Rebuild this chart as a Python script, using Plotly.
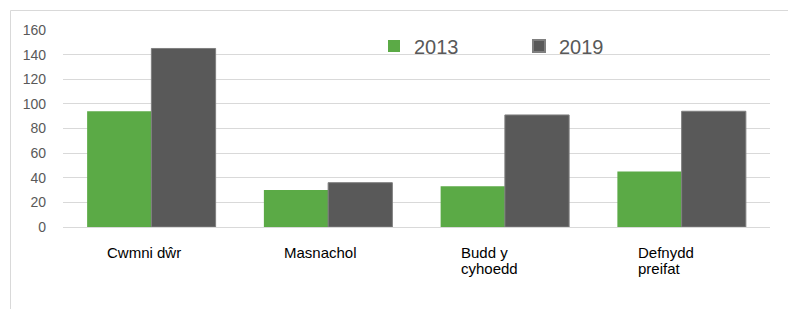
import plotly.graph_objects as go

categories = ["Cwmni dŵr", "Masnachol", "Budd y<br>cyhoedd", "Defnydd<br>preifat"]
cat_keys = ["c1", "c2", "c3", "c4"]
series_names = ["2013", "2019"]
values_2013 = [94, 30, 33, 45]
values_2019 = [145, 36, 91, 94]
y_ticks = [0, 20, 40, 60, 80, 100, 120, 140, 160]

GREEN = "#5BAA46"
GREY = "#595959"
OFF = 8  # page body margin offset
W, H = 796 - OFF, 309 - OFF
ML, MR, MT, MB = 63 - OFF, 26, 30 - OFF, 82

fig = go.Figure()
fig.add_trace(go.Bar(x=cat_keys, y=values_2013, name=series_names[0],
                     marker=dict(color=GREEN, line=dict(width=0))))
fig.add_trace(go.Bar(x=cat_keys, y=values_2019, name=series_names[1],
                     marker=dict(color=GREY, line=dict(color="#7f7f7f", width=1))))

pw = W - ML - MR
ph = H - MT - MB

def px_x(p):
    return (p - OFF - ML) / pw

def px_y(p):
    return (H - MB - (p - OFF)) / ph

# outer chart frame
fig.add_shape(type="rect", xref="paper", yref="paper",
              x0=px_x(10.5), x1=px_x(790.5), y0=px_y(10.5), y1=px_y(320),
              line=dict(color="#d9d9d9", width=1), fillcolor="rgba(0,0,0,0)", layer="below")

# category labels, left-aligned lines
for key, label in zip(cat_keys, categories):
    for i, line in enumerate(label.split("<br>")):
        fig.add_annotation(x=key, xref="x", y=0, yref="paper", text=line,
                           showarrow=False, xanchor="left", yanchor="middle",
                           xshift=-46, yshift=-25 - 16 * i,
                           font=dict(family="Liberation Sans, Arial", size=15, color="#000000"))

fig.update_layout(
    width=W, height=H,
    margin=dict(l=ML, r=MR, t=MT, b=MB),
    paper_bgcolor="white", plot_bgcolor="white",
    barmode="group", bargap=0.273, bargroupgap=0,
    legend=dict(orientation="h", x=px_x(374), y=px_y(46), xanchor="left", yanchor="middle",
                bgcolor="rgba(0,0,0,0)", entrywidth=100, entrywidthmode="pixels",
                font=dict(family="Liberation Sans, Arial", size=20, color=GREY),
                itemsizing="constant", traceorder="normal"),
    showlegend=True,
    xaxis=dict(showticklabels=False, showgrid=False, showline=False, zeroline=False,
               categoryorder="array", categoryarray=cat_keys),
    yaxis=dict(range=[0, 160], tickvals=y_ticks, showgrid=True, gridcolor="#d9d9d9",
               gridwidth=1, zeroline=True, zerolinecolor="#d9d9d9", zerolinewidth=1,
               showline=False, ticks="", ticklabelstandoff=16,
               tickfont=dict(family="Liberation Sans, Arial", size=14, color=GREY)),
)

fig.write_html("out.html")
